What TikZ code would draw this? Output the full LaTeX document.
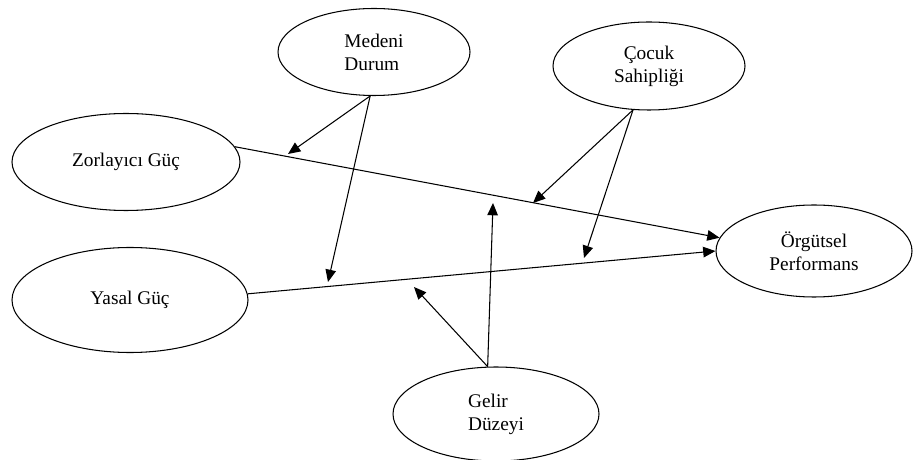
\documentclass[tikz,border=0pt]{standalone}
\usepackage{fontspec}
\setmainfont{Liberation Serif}
\usepackage{tikz}
\usetikzlibrary{arrows.meta,shapes.geometric}

\begin{document}
\begin{tikzpicture}[>={Triangle[length=7pt,width=6pt]},
 var/.style={draw,ellipse,line width=0.6pt,inner sep=0pt,font=\fontsize{11}{13}\selectfont},
 link/.style={->,line width=0.6pt}]
\useasboundingbox (0,0) rectangle (18.28,9.18);
\node[var,minimum width=3.84cm,minimum height=1.74cm,align=left] (med) at (7.48,8.14) {Medeni\\Durum};
\node[var,minimum width=3.84cm,minimum height=1.76cm,align=center] (coc) at (12.98,7.86) {Çocuk\\Sahipliği};
\node[var,minimum width=4.56cm,minimum height=1.94cm] (zor) at (2.52,5.94) {Zorlayıcı Güç};
\node[var,minimum width=4.72cm,minimum height=2.10cm] (yas) at (2.60,3.18) {Yasal Güç};
\node[var,minimum width=4.12cm,minimum height=1.88cm,align=left] (gel) at (9.92,0.90) {Gelir\\Düzeyi};
\node[var,minimum width=3.92cm,minimum height=1.84cm,align=center] (org) at (16.28,4.16) {Örgütsel\\Performans};
% ends of the moderator arrows
\coordinate (m1) at (5.76,6.10);
\coordinate (m2) at (6.56,3.54);
\coordinate (c1) at (10.66,5.12);
\coordinate (c2) at (11.68,4.02);
\coordinate (g1) at (9.86,5.12);
\coordinate (g2) at (8.28,3.44);
\draw[link] (zor.8)--(org.172); \draw[link] (yas.3)--(org.180);
\draw[link] (med.-95)--(m1); \draw[link] (med.-95)--(m2);
\draw[link] (coc.-110)--(c1); \draw[link] (coc.-110)--(c2);
\draw[link] (gel.100)--(g1); \draw[link] (gel.100)--(g2);
\end{tikzpicture}
\end{document}
